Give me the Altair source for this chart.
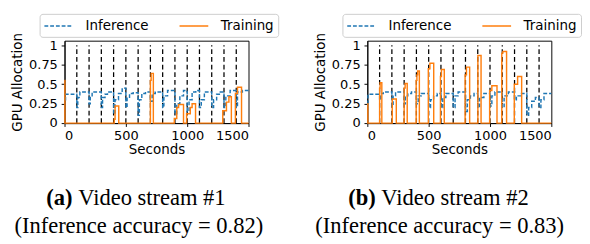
import altair as alt
import pandas as pd

# ---------------- data ----------------
SERIES = ["Inference", "Training"]
X_TICKS = [0, 500, 1000, 1500]
Y_TICKS = [0, 0.25, 0.5, 0.75, 1]
RETRAIN_TIMES = [100, 200, 300, 400, 500, 600, 700, 800, 900, 1000, 1100, 1200, 1300, 1400]

# (a) Video stream #1
inf_a_t = [0, 8, 100, 108, 125, 200, 210, 225, 300, 310, 330, 350,
           400, 412, 440, 470, 500, 510, 530, 560, 600, 610, 630, 660,
           700, 715, 740, 800, 810, 840, 900, 915, 940, 970,
           1000, 1015, 1040, 1070, 1100, 1115, 1140, 1200, 1215, 1240, 1270,
           1300, 1315, 1350, 1400, 1410, 1450, 1500]
inf_a_v = [0.30, 0.37, 0.20, 0.33, 0.40, 0.25, 0.35, 0.40, 0.20, 0.33, 0.37, 0.40,
           0.12, 0.30, 0.38, 0.45, 0.20, 0.32, 0.38, 0.39, 0.10, 0.30, 0.38, 0.40,
           0.28, 0.38, 0.40, 0.20, 0.35, 0.42, 0.12, 0.25, 0.35, 0.42,
           0.15, 0.30, 0.40, 0.42, 0.20, 0.30, 0.40, 0.20, 0.30, 0.37, 0.40,
           0.20, 0.35, 0.42, 0.20, 0.40, 0.42, 0.42]
tr_a_t = [0, 3, 405, 412, 442, 700, 706, 724, 895, 915, 930, 970,
          995, 1025, 1040, 1068, 1290, 1320, 1340, 1360, 1393, 1410, 1443, 1500]
tr_a_v = [0.55, 0, 0.05, 0.22, 0, 0.55, 0.64, 0, 0.06, 0.20, 0.24, 0,
          0.12, 0.20, 0.25, 0, 0.16, 0.27, 0.34, 0, 0.38, 0.46, 0, 0]

# (b) Video stream #2
inf_b_t = [0, 5, 100, 110, 130, 200, 210, 230, 300, 310, 330, 360,
           400, 415, 440, 500, 515, 540, 570, 600, 615, 640,
           700, 715, 740, 800, 815, 840, 870, 900, 915, 950,
           1000, 1015, 1040, 1100, 1115, 1150, 1200, 1215, 1250,
           1300, 1315, 1340, 1370, 1400, 1415, 1440, 1500]
inf_b_v = [0.25, 0.37, 0.30, 0.38, 0.40, 0.22, 0.35, 0.40, 0.25, 0.35, 0.38, 0.40,
           0.25, 0.35, 0.38, 0.20, 0.30, 0.35, 0.38, 0.20, 0.33, 0.38,
           0.20, 0.35, 0.40, 0.15, 0.30, 0.35, 0.38, 0.20, 0.33, 0.38,
           0.22, 0.35, 0.40, 0.20, 0.35, 0.40, 0.30, 0.35, 0.38,
           0.10, 0.20, 0.28, 0.33, 0.20, 0.30, 0.38, 0.38]
tr_b_t = [0, 4, 100, 104, 118, 203, 236, 300, 308, 325, 398, 404, 410, 424,
          497, 510, 541, 596, 604, 627, 797, 808, 834, 901, 927,
          997, 1015, 1057, 1096, 1105, 1135, 1198, 1225, 1258, 1500]
tr_b_v = [0.25, 0, 0.45, 0.52, 0, 0.31, 0, 0.45, 0.51, 0, 0.55, 0.62, 0.67, 0,
          0.70, 0.77, 0, 0.60, 0.69, 0, 0.62, 0.72, 0, 0.87, 0,
          0.42, 0.48, 0, 0.90, 0.92, 0, 0.50, 0.60, 0, 0]

CAPTIONS = [("(a)", "Video stream #1", "(Inference accuracy = 0.82)"),
            ("(b)", "Video stream #2", "(Inference accuracy = 0.83)")]

W, H = 192, 86
FONT = "DejaVu Sans"
SERIF = "Liberation Serif"
CAP_SIZE = 23.5


def panel(inf_t, inf_v, tr_t, tr_v, caption, cap_pos):
    df = pd.concat([
        pd.DataFrame({"series": SERIES[0], "t": inf_t, "v": inf_v}),
        pd.DataFrame({"series": SERIES[1], "t": tr_t, "v": tr_v}),
    ])
    legend = alt.Legend(
        title=None, orient="none", legendX=-26, legendY=-28,
        direction="horizontal", symbolType="M-1,0L3,0", symbolSize=225,
        symbolStrokeWidth=1.5, labelFontSize=14, labelFont=FONT,
        labelColor="black", strokeColor="#cccccc", fillColor="white",
        padding=4, cornerRadius=3, columnPadding=29, labelOffset=27,
    )
    xs = alt.Scale(domain=[0, 1500], nice=False, zero=False)
    ys = alt.Scale(domain=[0, 1.06], nice=False)
    xaxis = alt.Axis(values=X_TICKS, title="Seconds", labelExpr="toString(datum.value)",
                     labelOverlap=False)
    yaxis = alt.Axis(values=Y_TICKS, title="GPU Allocation",
                     labelExpr="toString(datum.value)", labelOverlap=False)

    rules = alt.Chart(pd.DataFrame({"t": RETRAIN_TIMES})).mark_rule(
        color="black", strokeDash=[5, 3], strokeWidth=1.3
    ).encode(
        x=alt.X("t:Q", scale=xs, axis=xaxis),
        y=alt.Y(datum=0, scale=ys, axis=yaxis),
        y2=alt.datum(1),
    )
    lines = alt.Chart(df).mark_line(interpolate="step-after", strokeWidth=1.5).encode(
        x=alt.X("t:Q", scale=xs, axis=xaxis),
        y=alt.Y("v:Q", scale=ys, axis=yaxis),
        color=alt.Color("series:N",
                        scale=alt.Scale(domain=SERIES, range=["#1f77b4", "#ff7f0e"]),
                        legend=legend),
        strokeDash=alt.StrokeDash("series:N",
                                  scale=alt.Scale(domain=SERIES, range=[[4, 2], [1, 0]]),
                                  legend=legend),
    )
    bx, rx, cx, y1, y2 = cap_pos
    cap_bold = alt.Chart(pd.DataFrame({"s": [caption[0]]})).mark_text(
        font=SERIF, fontSize=CAP_SIZE, fontWeight="bold", align="left",
        baseline="alphabetic", color="black"
    ).encode(text="s:N", x=alt.value(bx), y=alt.value(y1))
    cap_reg = alt.Chart(pd.DataFrame({"s": [caption[1]]})).mark_text(
        font=SERIF, fontSize=CAP_SIZE, align="left", baseline="alphabetic", color="black"
    ).encode(text="s:N", x=alt.value(rx), y=alt.value(y1))
    cap_2 = alt.Chart(pd.DataFrame({"s": [caption[2]]})).mark_text(
        font=SERIF, fontSize=CAP_SIZE, align="center", baseline="alphabetic", color="black"
    ).encode(text="s:N", x=alt.value(cx), y=alt.value(y2))
    return alt.layer(rules, lines, cap_bold, cap_reg, cap_2).properties(width=W, height=H)


left = panel(inf_a_t, inf_a_v, tr_a_t, tr_a_v, CAPTIONS[0], (-19, 14.3, 77.5, 171, 201))
right = panel(inf_b_t, inf_b_v, tr_b_t, tr_b_v, CAPTIONS[1], (-20, 14.6, 75.5, 171, 201))

chart = alt.hconcat(left, right, spacing=35).resolve_legend(
    color="independent", strokeDash="independent"
).properties(
    padding={"left": 2, "top": 0, "right": 0, "bottom": 0}
).configure_view(
    stroke="black", strokeWidth=1
).configure_axis(
    grid=False, domainColor="black", domainWidth=1, tickColor="black",
    tickSize=3.5, labelColor="black", labelFont=FONT, labelFontSize=13.5,
    labelPadding=4, labelOverlap=False, titleColor="black", titleFont=FONT,
    titleFontSize=14, titleFontWeight="normal",
).configure_axisX(titlePadding=1, labelPadding=3).configure_axisY(titlePadding=4)

chart.save("out.html", embed_options={"renderer": "svg", "actions": False})
